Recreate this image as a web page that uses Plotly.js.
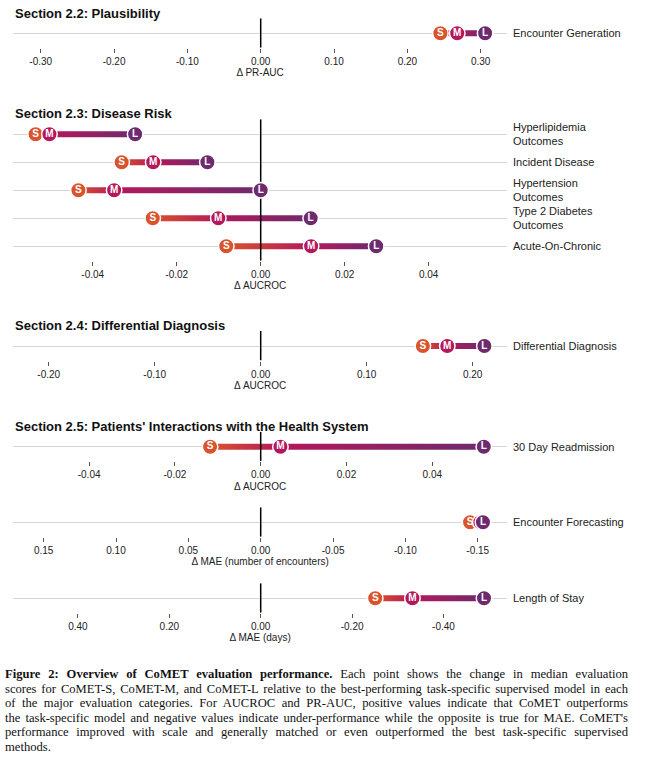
<!DOCTYPE html>
<html>
<head>
<meta charset="utf-8">
<script src="https://cdn.plot.ly/plotly-3.0.1.min.js"></script>
<style>
html,body{margin:0;padding:0;background:#fff;}
#wrap{position:relative;width:649px;height:777px;overflow:hidden;}
#chart{position:absolute;left:0;top:0;width:649px;height:777px;}
#caption{position:absolute;left:5px;top:667px;width:623px;font-family:"Liberation Serif","Times New Roman",serif;font-size:12.6px;color:#111;}
#caption div{height:14.5px;line-height:14.5px;text-align:justify;text-align-last:justify;}
#caption div.last{text-align-last:left;}
</style>
</head>
<body>
<div id="wrap">
<div id="chart"></div>
<div id="caption">
<div><b>Figure 2: Overview of CoMET evaluation performance.</b> Each point shows the change in median evaluation</div>
<div>scores for CoMET-S, CoMET-M, and CoMET-L relative to the best-performing task-specific supervised model in each</div>
<div>of the major evaluation categories. For AUCROC and PR-AUC, positive values indicate that CoMET outperforms</div>
<div>the task-specific model and negative values indicate under-performance while the opposite is true for MAE. CoMET's</div>
<div>performance improved with scale and generally matched or even outperformed the best task-specific supervised</div>
<div class="last">methods.</div>
</div>
</div>
<script>
// ---------------- DATA ----------------
const plausTasks = ['Encounter Generation'];
const plausS = [0.245];
const plausM = [0.268];
const plausL = [0.306];
const plausTickVals = [-0.3, -0.2, -0.1, 0, 0.1, 0.2, 0.3];
const plausTickText = ['-0.30', '-0.20', '-0.10', '0.00', '0.10', '0.20', '0.30'];

const riskTasks = ['Hyperlipidemia<br>Outcomes', 'Incident Disease', 'Hypertension<br>Outcomes', 'Type 2 Diabetes<br>Outcomes', 'Acute-On-Chronic'];
const riskS = [-0.0536, -0.0331, -0.0434, -0.0257, -0.0082];
const riskM = [-0.0503, -0.0256, -0.0349, -0.0101, 0.0120];
const riskL = [-0.0299, -0.0127, 0.0000, 0.0119, 0.0275];
const riskTickVals = [-0.04, -0.02, 0, 0.02, 0.04];
const riskTickText = ['-0.04', '-0.02', '0.00', '0.02', '0.04'];

const diffTasks = ['Differential Diagnosis'];
const diffS = [0.153];
const diffM = [0.176];
const diffL = [0.211];
const diffTickVals = [-0.2, -0.1, 0, 0.1, 0.2];
const diffTickText = ['-0.20', '-0.10', '0.00', '0.10', '0.20'];

const readmTasks = ['30 Day Readmission'];
const readmS = [-0.0118];
const readmM = [0.0046];
const readmL = [0.0520];
const readmTickVals = [-0.04, -0.02, 0, 0.02, 0.04];
const readmTickText = ['-0.04', '-0.02', '0.00', '0.02', '0.04'];

const fcTasks = ['Encounter Forecasting'];
const fcS = [-0.1447];
const fcM = [-0.1518];
const fcL = [-0.1536];
const fcTickVals = [0.15, 0.10, 0.05, 0, -0.05, -0.10, -0.15];
const fcTickText = ['0.15', '0.10', '0.05', '0.00', '-0.05', '-0.10', '-0.15'];

const losTasks = ['Length of Stay'];
const losS = [-0.2506];
const losM = [-0.332];
const losL = [-0.4886];
const losTickVals = [0.4, 0.2, 0, -0.2, -0.4];
const losTickText = ['0.40', '0.20', '0.00', '-0.20', '-0.40'];

const sectionTitles = ['Section 2.2: Plausibility', 'Section 2.3: Disease Risk', 'Section 2.4: Differential Diagnosis', "Section 2.5: Patients' Interactions with the Health System"];
const axisTitles = ['Δ PR-AUC', 'Δ AUCROC', 'Δ AUCROC', 'Δ AUCROC', 'Δ MAE (number of encounters)', 'Δ MAE (days)'];

// ---------------- STYLE / LAYOUT ----------------
const W = 649, H = 777;
const X0 = 13.3, X1 = 507, ZERO = 260.7;
const ROW = 28, HALF = 3 / 28;
const cS = '#D9532C', cM = '#B4185A', cL = '#6E2A6E';
const FONT = '"Liberation Sans", Arial, Helvetica, sans-serif';

const panels = [
  {tasks: plausTasks, S: plausS, M: plausM, L: plausL, tv: plausTickVals, tt: plausTickText, k: 733.3, row0: 33.3},
  {tasks: riskTasks, S: riskS, M: riskM, L: riskL, tv: riskTickVals, tt: riskTickText, k: 4200, row0: 134.3},
  {tasks: diffTasks, S: diffS, M: diffM, L: diffL, tv: diffTickVals, tt: diffTickText, k: 1060, row0: 346},
  {tasks: readmTasks, S: readmS, M: readmM, L: readmL, tv: readmTickVals, tt: readmTickText, k: 4290, row0: 446.7},
  {tasks: fcTasks, S: fcS, M: fcM, L: fcL, tv: fcTickVals, tt: fcTickText, k: -1447, row0: 522.3},
  {tasks: losTasks, S: losS, M: losM, L: losL, tv: losTickVals, tt: losTickText, k: -457, row0: 598.3}
];
const titleY = [13.3, 113.3, 325.5, 426];

const traces = [];
const layout = {
  width: W, height: H,
  margin: {l: 0, r: 0, t: 0, b: 0},
  paper_bgcolor: '#fff', plot_bgcolor: 'rgba(0,0,0,0)',
  showlegend: false,
  font: {family: FONT, color: '#222'},
  annotations: [],
  hovermode: false
};

panels.forEach((p, i) => {
  const s = i === 0 ? '' : String(i + 1);
  const n = p.tasks.length;
  const rows = p.tasks.map((_, r) => r);
  const topPx = p.row0 - 15;
  const botPx = p.row0 + (n - 1) * ROW + 14.5;
  const yr = [(n - 1) + 14.5 / ROW, -15 / ROW];

  layout['xaxis' + s] = {
    domain: [X0 / W, X1 / W],
    anchor: 'y' + s,
    range: [(X0 - ZERO) / p.k, (X1 - ZERO) / p.k],
    tickmode: 'array', tickvals: p.tv, ticktext: p.tt,
    ticks: 'outside', ticklen: 4, tickwidth: 1, tickcolor: '#555',
    showgrid: false, zeroline: false, showline: false,
    tickfont: {size: 10, color: '#222'},
    title: {text: axisTitles[i], font: {size: 10, color: '#222'}, standoff: 3},
    fixedrange: true
  };
  layout['yaxis' + s] = {
    domain: [1 - botPx / H, 1 - topPx / H],
    anchor: 'x' + s,
    range: yr,
    side: 'right',
    tickmode: 'array', tickvals: rows, ticktext: p.tasks,
    ticks: '', ticklabelstandoff: 5,
    showgrid: true, gridcolor: '#d6d6d6', gridwidth: 1,
    zeroline: false, showline: false,
    tickfont: {size: 11, color: '#222'},
    fixedrange: true
  };

  // gradient bars
  rows.forEach(r => {
    const sv = p.S[r], mv = p.M[r], lv = p.L[r];
    const f = (mv - sv) / (lv - sv);
    traces.push({
      type: 'scatter', mode: 'lines', xaxis: 'x' + s, yaxis: 'y' + s,
      x: [sv, lv, lv, sv, sv],
      y: [r - HALF, r - HALF, r + HALF, r + HALF, r - HALF],
      fill: 'toself', line: {width: 0, color: 'rgba(0,0,0,0)'},
      fillgradient: {type: 'horizontal', start: sv, stop: lv, colorscale: [[0, cS], [f, cM], [1, cL]]},
      hoverinfo: 'skip'
    });
  });

  // zero reference line
  traces.push({
    type: 'scatter', mode: 'lines', xaxis: 'x' + s, yaxis: 'y' + s,
    x: [0, 0], y: yr, line: {color: '#000', width: 1.5}, hoverinfo: 'skip', cliponaxis: false
  });

  // markers
  [[p.S, cS, 'S'], [p.M, cM, 'M'], [p.L, cL, 'L']].forEach(([vals, col, lab]) => {
    traces.push({
      type: 'scatter', mode: 'markers+text', xaxis: 'x' + s, yaxis: 'y' + s,
      x: vals, y: rows, text: vals.map(() => lab),
      textposition: 'middle center',
      textfont: {family: FONT, size: 10, color: '#fff', weight: 'bold'},
      marker: {size: 15.5, color: col, line: {color: '#fff', width: 1.5}},
      cliponaxis: false, hoverinfo: 'skip'
    });
  });
});

sectionTitles.forEach((t, j) => {
  layout.annotations.push({
    text: t, xref: 'paper', yref: 'paper', x: X0 / W, y: 1 - titleY[j] / H,
    xanchor: 'left', yanchor: 'middle', showarrow: false,
    font: {family: FONT, size: 13, color: '#111', weight: 'bold'}
  });
});

Plotly.newPlot('chart', traces, layout, {displayModeBar: false, staticPlot: true});
</script>
</body>
</html>
